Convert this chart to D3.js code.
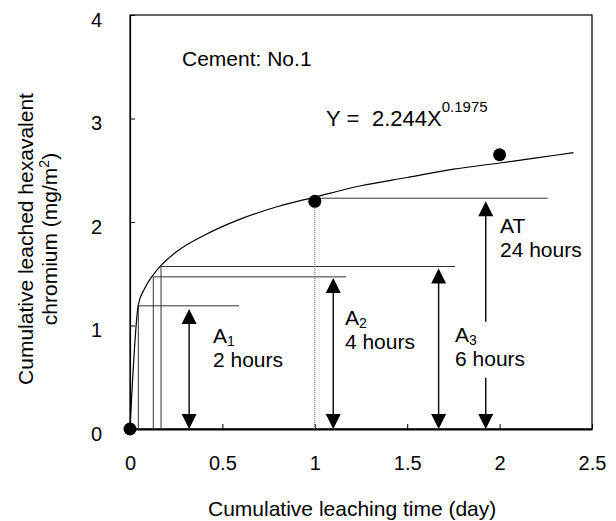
<!DOCTYPE html>
<html>
<head>
<meta charset="utf-8">
<script src="https://cdn.jsdelivr.net/npm/d3@7"></script>
<style>
  html, body { margin: 0; padding: 0; background: #fff; }
  svg { display: block; }
  text { font-family: "Liberation Sans", Arial, sans-serif; fill: #000; }
</style>
</head>
<body>
<svg id="chart" width="616" height="521"></svg>
<script>
// ---- data ----
const measTime = [0, 1, 2];            // cumulative leaching time (day)
const measLeached = [0, 2.2, 2.65];    // cumulative leached Cr(VI) (mg/m2)

// power trendline Y = 2.244 X^0.1975 (as drawn)
const trendTime = [0, 0.045, 0.08, 0.126, 0.168, 0.25, 0.4, 0.6, 0.8, 1, 1.25, 1.5, 1.75, 2, 2.2, 2.4];
const trendLeached = [0, 1.2, 1.36, 1.49, 1.58, 1.71, 1.87, 2.03, 2.15, 2.24, 2.35, 2.43, 2.51, 2.57, 2.62, 2.67];

// guide lines (vertical at time, horizontal at level up to end)
const guideTime = [0.045, 0.126, 0.168];
const guideLevel = [1.19, 1.47, 1.57];
const guideEnd = [0.59, 1.17, 1.76];
const atStart = 1, atLevel = 2.23, atEnd = 2.26;

// double arrows
const arrowTime = [0.32, 1.10, 1.67, 1.925];
const arrowTop = [1.16, 1.46, 1.55, 2.2];
const arrowName = ["A", "A", "A", "AT"];
const arrowSub = ["1", "2", "3", ""];
const arrowHours = ["2 hours", "4 hours", "6 hours", "24 hours"];

const xTicks = [0, 0.5, 1, 1.5, 2, 2.5];
const yTicks = [0, 1, 2, 3, 4];

// ---- layout ----
const svg = d3.select("#chart");
const x = d3.scaleLinear().domain([0, 2.5]).range([130, 592]);
const y = d3.scaleLinear().domain([0, 4]).range([429, 15]);
const FS = 21;

// frame
svg.append("rect").attr("x", x(0)).attr("y", y(4))
  .attr("width", x(2.5) - x(0)).attr("height", y(0) - y(4))
  .attr("fill", "none").attr("stroke", "#000").attr("stroke-width", 1.2);

// axes
const xAxis = d3.axisBottom(x).tickValues(xTicks).tickFormat(d3.format("")).tickSizeInner(-5).tickSizeOuter(0).tickPadding(27);
const gx = svg.append("g").attr("transform", `translate(0,${y(0)})`).call(xAxis);
gx.select(".domain").attr("stroke-width", 1.8);
gx.selectAll("text").attr("font-size", 20).attr("font-family", "Liberation Sans, Arial, sans-serif");

const yAxis = d3.axisLeft(y).tickValues(yTicks).tickFormat(d3.format("")).tickSizeInner(-5).tickSizeOuter(0).tickPadding(28);
const gy = svg.append("g").attr("transform", `translate(${x(0)},0)`).call(yAxis);
gy.select(".domain").attr("stroke-width", 1.2);
gy.selectAll("text").attr("font-size", 20).attr("dy", "0.55em").attr("font-family", "Liberation Sans, Arial, sans-serif");

// axis titles
svg.append("text").attr("x", 208).attr("y", 516).attr("font-size", FS)
  .text("Cumulative leaching time (day)");
const yt = svg.append("text").attr("transform", "translate(33,239) rotate(-90)")
  .attr("text-anchor", "middle").attr("font-size", FS);
yt.append("tspan").attr("x", 0).attr("y", 0).text("Cumulative leached hexavalent");
const l2 = yt.append("tspan").attr("x", 0).attr("y", 24);
l2.append("tspan").text("chromium (mg/m");
l2.append("tspan").attr("font-size", 14).attr("dy", -8).text("2");
l2.append("tspan").attr("dy", 8).text(")");

// guide lines
const guideColor = "#333";
guideTime.forEach((t, i) => {
  svg.append("line").attr("x1", x(t)).attr("x2", x(t)).attr("y1", y(0)).attr("y2", y(guideLevel[i]))
    .attr("stroke", guideColor).attr("stroke-width", 1);
  svg.append("line").attr("x1", x(t)).attr("x2", x(guideEnd[i])).attr("y1", y(guideLevel[i])).attr("y2", y(guideLevel[i]))
    .attr("stroke", guideColor).attr("stroke-width", 1);
});
svg.append("line").attr("x1", x(atStart)).attr("x2", x(atEnd)).attr("y1", y(atLevel)).attr("y2", y(atLevel))
  .attr("stroke", guideColor).attr("stroke-width", 1);
// dotted vertical at 1 day
svg.append("line").attr("x1", x(1)).attr("x2", x(1)).attr("y1", y(0)).attr("y2", y(measLeached[1]))
  .attr("stroke", "#666").attr("stroke-width", 1).attr("stroke-dasharray", "1,1");

// trend curve
const line = d3.line().x((d, i) => x(trendTime[i])).y(d => y(d)).curve(d3.curveMonotoneX);
svg.append("path").datum(trendLeached).attr("d", line)
  .attr("fill", "none").attr("stroke", "#000").attr("stroke-width", 1.2);

// arrows
const headW = 15, headH = 15;
arrowTime.forEach((t, i) => {
  const ax = x(t), yTop = y(arrowTop[i]), yBot = y(0);
  svg.append("line").attr("x1", ax).attr("x2", ax).attr("y1", yTop + headH - 1).attr("y2", yBot - headH + 1)
    .attr("stroke", "#111").attr("stroke-width", 1.5);
  svg.append("path").attr("d", `M${ax},${yTop} L${ax - headW / 2},${yTop + headH} L${ax + headW / 2},${yTop + headH} Z`).attr("fill", "#000");
  svg.append("path").attr("d", `M${ax},${yBot} L${ax - headW / 2},${yBot - headH} L${ax + headW / 2},${yBot - headH} Z`).attr("fill", "#000");
});

// measured points
svg.selectAll("circle.pt").data(measLeached).enter().append("circle")
  .attr("cx", (d, i) => x(measTime[i])).attr("cy", d => y(d)).attr("r", 6.5).attr("fill", "#000");

// annotation labels (white box behind, as in the original text boxes)
const labelPos = [[0.449, 0.83], [1.163, 1.005], [1.759, 0.843], [2.002, 1.89]];
arrowName.forEach((n, i) => {
  const lx = x(labelPos[i][0]), ly = y(labelPos[i][1]);
  if (i === 2) {
    svg.append("rect").attr("x", lx - 3).attr("y", ly - 20).attr("width", 80).attr("height", 56).attr("fill", "#fff");
  }
  const t = svg.append("text").attr("x", lx).attr("y", ly).attr("font-size", FS);
  t.append("tspan").text(n);
  if (arrowSub[i]) t.append("tspan").attr("font-size", 14).attr("dy", 3).text(arrowSub[i]);
  svg.append("text").attr("x", lx).attr("y", ly + 24).attr("font-size", FS).text(arrowHours[i]);
});

svg.append("text").attr("x", 182).attr("y", 66).attr("font-size", FS).text("Cement: No.1");
const eq = svg.append("text").attr("y", 126).attr("font-size", 22);
eq.append("tspan").attr("x", 326).text("Y =");
eq.append("tspan").attr("x", 372).text("2.244X");
eq.append("tspan").attr("font-size", 15).attr("dy", -14).text("0.1975");
</script>
</body>
</html>
